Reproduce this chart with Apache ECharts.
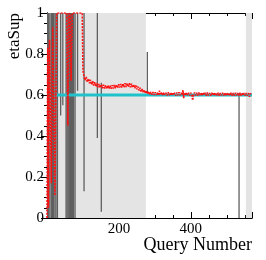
<!DOCTYPE html>
<html><head><meta charset="utf-8">
<script src="https://cdn.jsdelivr.net/npm/echarts@6/dist/echarts.min.js"></script>
<style>html,body{margin:0;padding:0;background:#fff}#c{width:266px;height:260px}</style>
</head><body><div id="c"></div>
<script>
// ---- data ----
const xMin = 0, xMax = 570;
const xLabelValues = [200, 400];
const redQ = [0, 2, 4, 7, 12, 16, 22, 27, 40, 55, 58, 61, 64, 67, 70, 85, 98,
  100, 103, 106, 109, 112, 115, 118, 121, 124, 127, 130, 133, 136, 139, 142, 145, 148, 151, 154, 157, 160, 163, 166, 169, 172, 175, 178, 181, 184, 187, 190, 193, 196, 199,
  202, 205, 208, 211, 214, 217, 220, 223, 226, 229, 232, 235, 238, 241, 244, 247, 250, 253, 256, 259, 262, 265, 268, 271, 274, 277, 280, 283, 286, 289, 292, 295, 298,
  301, 304, 307, 310, 313, 316, 319, 322, 325, 328, 331, 334, 337, 340, 343, 346, 349, 352, 355, 358, 361, 364, 367, 370, 373, 376, 378, 380, 382, 385, 388, 391, 394, 397,
  400, 403, 405, 407, 410, 413, 416, 419, 422, 425, 428, 431, 434, 437, 440, 443, 446, 449, 452, 455, 458, 461, 464, 467, 470, 473, 476, 479, 482, 485, 488, 491, 494, 497,
  500, 503, 506, 509, 512, 515, 518, 521, 524, 527, 530, 533, 536, 539, 542, 545, 548, 551, 554, 557, 560, 563, 566, 569];
const redY = [0.00, 0.83, 0.05, 0.87, 0.17, 0.93, 0.11, 1.0, 1.0, 1.0, 0.45, 1.0, 0.99, 0.67, 1.0, 1.0, 1.0,
  0.72, 0.69, 0.672, 0.688, 0.664, 0.68, 0.657, 0.674, 0.65, 0.667, 0.646, 0.662, 0.641, 0.658, 0.638, 0.654, 0.635, 0.652, 0.633, 0.65, 0.632, 0.648, 0.63, 0.647, 0.631, 0.646, 0.63, 0.648, 0.632, 0.649, 0.633, 0.651, 0.634, 0.652,
  0.636, 0.654, 0.637, 0.656, 0.638, 0.657, 0.639, 0.658, 0.64, 0.657, 0.638, 0.655, 0.636, 0.652, 0.633, 0.647, 0.628, 0.641, 0.622, 0.635, 0.616, 0.629, 0.611, 0.624, 0.607, 0.62, 0.604, 0.617, 0.602, 0.615, 0.601, 0.614, 0.6,
  0.613, 0.6, 0.612, 0.599, 0.621, 0.6, 0.613, 0.598, 0.612, 0.6, 0.611, 0.598, 0.613, 0.599, 0.611, 0.598, 0.612, 0.6, 0.611, 0.597, 0.612, 0.599, 0.613, 0.598, 0.611, 0.6, 0.624, 0.585, 0.612, 0.598, 0.612, 0.599, 0.611, 0.597,
  0.611, 0.599, 0.574, 0.598, 0.612, 0.598, 0.611, 0.597, 0.612, 0.599, 0.611, 0.597, 0.612, 0.6, 0.611, 0.597, 0.612, 0.598, 0.61, 0.597, 0.611, 0.599, 0.612, 0.597, 0.61, 0.598, 0.611, 0.596, 0.61, 0.598, 0.611, 0.598, 0.61, 0.596,
  0.611, 0.597, 0.61, 0.598, 0.611, 0.596, 0.61, 0.597, 0.611, 0.598, 0.61, 0.596, 0.611, 0.597, 0.61, 0.598, 0.609, 0.596, 0.61, 0.597, 0.609, 0.592, 0.608, 0.6];
const spikeQ    = [1, 4, 8, 12, 15, 18, 22, 25, 29, 38, 44, 53, 56, 59, 62, 65, 68, 71, 74, 78, 85, 103, 140, 151, 279, 534];
const spikeLow  = [0, 0, 0, 0, 0, 0, 0, 0, 0, 0.5, 0.55, 0, 0, 0, 0, 0, 0, 0, 0, 0, 0.62, 0.13, 0.39, 0.03, 0.61, 0];
const spikeHigh = [1, 1, 1, 1, 1, 1, 1, 1, 1, 1, 1, 1, 1, 1, 1, 1, 1, 1, 1, 1, 1, 1, 1, 0.66, 0.81, 0.61];
const targetQ = [27, 570];
const targetY = [0.6, 0.6];
const bandStart = [0, 553];
const bandEnd = [275, 570];

// ---- chart ----
const FONT = "'Liberation Serif', 'Times New Roman', serif";
const chart = echarts.init(document.getElementById('c'), null, {renderer: 'canvas'});
const black = {color: '#000', width: 1};
function xAx(pos, interval, len, labels) {
  return {
    type: 'value', position: pos, min: xMin, max: xMax, interval: interval,
    axisLine: {show: true, lineStyle: black}, splitLine: {show: false},
    axisTick: {show: true, inside: true, length: len, lineStyle: black},
    axisLabel: labels ? {show: true, margin: 4, color: '#000', fontFamily: FONT, fontSize: 15,
      formatter: v => xLabelValues.indexOf(v) >= 0 ? String(v) : ''} : {show: false}
  };
}
function yAx(pos, labels) {
  return {
    type: 'value', position: pos, min: 0, max: 1, interval: 0.2,
    axisLine: {show: true, lineStyle: black}, splitLine: {show: false},
    axisTick: {show: true, inside: true, length: 6, lineStyle: black},
    minorTick: {show: true, splitNumber: 4, length: 3, lineStyle: black},
    axisLabel: labels ? {show: true, margin: 3, color: '#000', fontFamily: FONT, fontSize: 15} : {show: false}
  };
}
chart.setOption({
  animation: false,
  backgroundColor: '#fff',
  grid: {left: 47, right: 14, top: 13, bottom: 42, containLabel: false},
  xAxis: [xAx('bottom', 50, 3, true), xAx('bottom', 200, 6, false), xAx('top', 50, 3, false), xAx('top', 200, 6, false)],
  yAxis: [yAx('left', true), yAx('right', false)],
  series: [
    {
      type: 'custom', xAxisIndex: 0, yAxisIndex: 0, z: 2, clip: true,
      data: spikeQ.map((q, i) => [q, spikeLow[i], spikeHigh[i]]),
      encode: {x: 0, y: [1, 2]},
      renderItem: (params, api) => {
        const a = api.coord([api.value(0), api.value(1)]);
        const b = api.coord([api.value(0), api.value(2)]);
        return {type: 'line', shape: {x1: a[0], y1: a[1], x2: b[0], y2: b[1]},
          style: {stroke: '#5f5f5f', lineWidth: 1.3}};
      },
      markArea: {
        silent: true, z: 1,
        itemStyle: {color: '#e4e4e4'},
        data: bandStart.map((s, i) => [{xAxis: s}, {xAxis: bandEnd[i]}])
      }
    },
    {
      type: 'line', xAxisIndex: 0, yAxisIndex: 0, z: 3, showSymbol: false,
      data: targetQ.map((q, i) => [q, targetY[i]]),
      lineStyle: {color: '#1fc2cb', width: 3}
    },
    {
      type: 'line', xAxisIndex: 0, yAxisIndex: 0, z: 4, showSymbol: false,
      data: redQ.map((q, i) => [q, redY[i]]),
      lineStyle: {color: '#ff1010', width: 1.6, type: [2, 1.2]}
    }
  ],
  graphic: [
    {type: 'text', x: 15, y: 13, rotation: Math.PI / 2,
      style: {text: 'etaSup', font: '17px ' + FONT, fill: '#000', textAlign: 'right', textVerticalAlign: 'middle'}},
    {type: 'text', x: 252, y: 245,
      style: {text: 'Query Number', font: '18px ' + FONT, fill: '#000', textAlign: 'right', textVerticalAlign: 'middle'}}
  ]
});
</script></body></html>
